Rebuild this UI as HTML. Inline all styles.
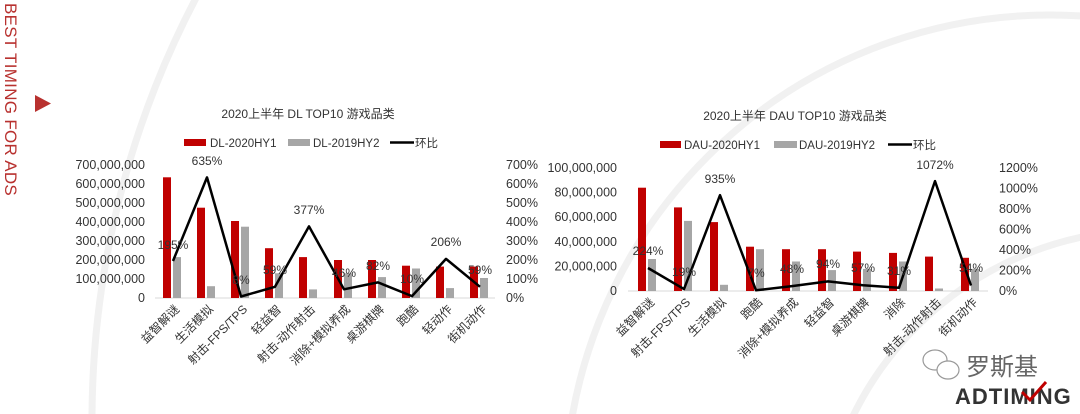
<!DOCTYPE html>
<html><head><meta charset="utf-8"><style>
html,body{margin:0;padding:0;background:#fff;width:1080px;height:414px;overflow:hidden;}
svg{display:block;font-family:"Liberation Sans","Noto Sans CJK SC",sans-serif;}
</style></head><body>
<svg width="1080" height="414" viewBox="0 0 1080 414" xmlns="http://www.w3.org/2000/svg">
<g fill="none" stroke="#f1f1f1" stroke-width="7">
<circle cx="1000" cy="420" r="908"/>
<circle cx="1050" cy="500" r="485"/>
<circle cx="1150" cy="560" r="330"/>
</g>
<text transform="translate(5,3) rotate(90)" font-size="17" fill="#b8312f" letter-spacing="0.3">BEST TIMING FOR ADS</text>
<polygon points="35,95 51,103.5 35,112" fill="#b8312f"/>

<!-- Chart 1 -->
<text x="308" y="118" font-size="12" text-anchor="middle" fill="#333">2020上半年 DL TOP10 游戏品类</text>
<rect x="184" y="139" width="22" height="7" fill="#c00000"/><text x="210" y="147" font-size="11.5" fill="#333">DL-2020HY1</text>
<rect x="288" y="139" width="22" height="7" fill="#a6a6a6"/><text x="313" y="147" font-size="11.5" fill="#333">DL-2019HY2</text>
<line x1="390" y1="142.5" x2="414" y2="142.5" stroke="#000" stroke-width="2.5"/><text x="415" y="147" font-size="11.5" fill="#333">环比</text>
<g font-size="12.5" fill="#333" text-anchor="end">
<text x="145" y="302">0</text><text x="145" y="283">100,000,000</text><text x="145" y="264">200,000,000</text><text x="145" y="245">300,000,000</text><text x="145" y="226">400,000,000</text><text x="145" y="207">500,000,000</text><text x="145" y="188">600,000,000</text><text x="145" y="169">700,000,000</text>
</g>
<g font-size="12.5" fill="#333">
<text x="506" y="302">0%</text><text x="506" y="283">100%</text><text x="506" y="264">200%</text><text x="506" y="245">300%</text><text x="506" y="226">400%</text><text x="506" y="207">500%</text><text x="506" y="188">600%</text><text x="506" y="169">700%</text>
</g>
<line x1="155" y1="298" x2="495" y2="298" stroke="#d9d9d9" stroke-width="1"/>
<g fill="#c00000">
<rect x="163" y="177.3" width="8" height="120.7"/><rect x="197" y="207.7" width="8" height="90.3"/><rect x="231" y="221" width="8" height="77"/><rect x="265" y="248.2" width="8" height="49.8"/><rect x="299" y="257.1" width="8" height="40.9"/><rect x="334" y="260" width="8" height="38"/><rect x="368" y="260" width="8" height="38"/><rect x="402" y="265.7" width="8" height="32.3"/><rect x="436" y="266.6" width="8" height="31.4"/><rect x="470" y="266.6" width="8" height="31.4"/>
</g>
<g fill="#a6a6a6">
<rect x="173" y="257.1" width="8" height="40.9"/><rect x="207" y="286.2" width="8" height="11.8"/><rect x="241" y="226.7" width="8" height="71.3"/><rect x="275" y="273.3" width="8" height="24.7"/><rect x="309" y="289.4" width="8" height="8.6"/><rect x="344" y="273.3" width="8" height="24.7"/><rect x="378" y="277.1" width="8" height="20.9"/><rect x="412" y="268.5" width="8" height="29.5"/><rect x="446" y="288.1" width="8" height="9.9"/><rect x="480" y="278" width="8" height="20"/>
</g>
<polyline points="173,261 207,177.4 241,296.5 275,286.8 309,226.4 344,289.3 378,282.4 412,296.1 446,258.9 480,286.8" fill="none" stroke="#000" stroke-width="2.5" stroke-linejoin="round"/>
<g font-size="12" fill="#333" text-anchor="middle">
<text x="173" y="249">195%</text><text x="207" y="165">635%</text><text x="241" y="284">8%</text><text x="275" y="274">59%</text><text x="309" y="214">377%</text><text x="344" y="277">46%</text><text x="378" y="270">82%</text><text x="412" y="283">10%</text><text x="446" y="246">206%</text><text x="480" y="274">59%</text>
</g>
<g font-size="12" fill="#333" text-anchor="end">
<text transform="translate(180,310) rotate(-45)">益智解谜</text><text transform="translate(214,310) rotate(-45)">生活模拟</text><text transform="translate(248,310) rotate(-45)">射击-FPS/TPS</text><text transform="translate(282,310) rotate(-45)">轻益智</text><text transform="translate(316,310) rotate(-45)">射击-动作射击</text><text transform="translate(351,310) rotate(-45)">消除+模拟养成</text><text transform="translate(385,310) rotate(-45)">桌游棋牌</text><text transform="translate(419,310) rotate(-45)">跑酷</text><text transform="translate(453,310) rotate(-45)">轻动作</text><text transform="translate(487,310) rotate(-45)">街机动作</text>
</g>

<!-- Chart 2 -->
<text x="795" y="120" font-size="12" text-anchor="middle" fill="#333">2020上半年 DAU TOP10 游戏品类</text>
<rect x="660" y="141" width="21" height="7" fill="#c00000"/><text x="684" y="149" font-size="11.5" fill="#333">DAU-2020HY1</text>
<rect x="774" y="141" width="23" height="7" fill="#a6a6a6"/><text x="799" y="149" font-size="11.5" fill="#333">DAU-2019HY2</text>
<line x1="888" y1="144.5" x2="912" y2="144.5" stroke="#000" stroke-width="2.5"/><text x="913" y="149" font-size="11.5" fill="#333">环比</text>
<g font-size="12.5" fill="#333" text-anchor="end">
<text x="617" y="295">0</text><text x="617" y="270.4">20,000,000</text><text x="617" y="245.8">40,000,000</text><text x="617" y="221.2">60,000,000</text><text x="617" y="196.6">80,000,000</text><text x="617" y="172">100,000,000</text>
</g>
<g font-size="12.5" fill="#333">
<text x="999" y="295">0%</text><text x="999" y="274.5">200%</text><text x="999" y="254">400%</text><text x="999" y="233.5">600%</text><text x="999" y="213">800%</text><text x="999" y="192.5">1000%</text><text x="999" y="172">1200%</text>
</g>
<line x1="628" y1="291" x2="988" y2="291" stroke="#d9d9d9" stroke-width="1"/>
<g fill="#c00000">
<rect x="638" y="187.7" width="8" height="103.3"/><rect x="674" y="207.4" width="8" height="83.6"/><rect x="710" y="222.1" width="8" height="68.9"/><rect x="746" y="246.7" width="8" height="44.3"/><rect x="782" y="249.2" width="8" height="41.8"/><rect x="818" y="249.2" width="8" height="41.8"/><rect x="853" y="251.6" width="8" height="39.4"/><rect x="889" y="252.9" width="8" height="38.1"/><rect x="925" y="256.6" width="8" height="34.4"/><rect x="961" y="257.8" width="8" height="33.2"/>
</g>
<g fill="#a6a6a6">
<rect x="648" y="259" width="8" height="32"/><rect x="684" y="220.9" width="8" height="70.1"/><rect x="720" y="284.8" width="8" height="6.2"/><rect x="756" y="249.2" width="8" height="41.8"/><rect x="792" y="261.5" width="8" height="29.5"/><rect x="828" y="270.1" width="8" height="20.9"/><rect x="863" y="268.9" width="8" height="22.1"/><rect x="899" y="261.5" width="8" height="29.5"/><rect x="935" y="288.5" width="8" height="2.5"/><rect x="971" y="268.9" width="8" height="22.1"/>
</g>
<polyline points="648,268 684,289.1 720,195.2 756,290.3 792,286.1 828,281.4 863,285.2 899,287.8 935,181.1 971,285.5" fill="none" stroke="#000" stroke-width="2.5" stroke-linejoin="round"/>
<g font-size="12" fill="#333" text-anchor="middle">
<text x="648" y="255">224%</text><text x="684" y="276">19%</text><text x="720" y="183">935%</text><text x="756" y="277">7%</text><text x="792" y="273">48%</text><text x="828" y="268">94%</text><text x="863" y="272">57%</text><text x="899" y="275">31%</text><text x="935" y="169">1072%</text><text x="971" y="272">54%</text>
</g>
<g font-size="12" fill="#333" text-anchor="end">
<text transform="translate(655,303) rotate(-45)">益智解谜</text><text transform="translate(691,303) rotate(-45)">射击-FPS/TPS</text><text transform="translate(727,303) rotate(-45)">生活模拟</text><text transform="translate(763,303) rotate(-45)">跑酷</text><text transform="translate(799,303) rotate(-45)">消除+模拟养成</text><text transform="translate(835,303) rotate(-45)">轻益智</text><text transform="translate(870,303) rotate(-45)">桌游棋牌</text><text transform="translate(906,303) rotate(-45)">消除</text><text transform="translate(942,303) rotate(-45)">射击-动作射击</text><text transform="translate(978,303) rotate(-45)">街机动作</text>
</g>

<!-- logo -->
<g fill="#fff" stroke="#999" stroke-width="1.2">
<ellipse cx="935" cy="360" rx="12" ry="10"/>
<ellipse cx="948" cy="370" rx="11" ry="9"/>
</g>
<text x="966" y="375" font-size="24" fill="#666">罗斯基</text>
<text x="955" y="404" font-size="22" font-weight="bold" fill="#333" letter-spacing="1">ADTIMING</text>
<polyline points="1022,392 1030,400 1046,382" fill="none" stroke="#c00000" stroke-width="3"/>
</svg>
</body></html>
